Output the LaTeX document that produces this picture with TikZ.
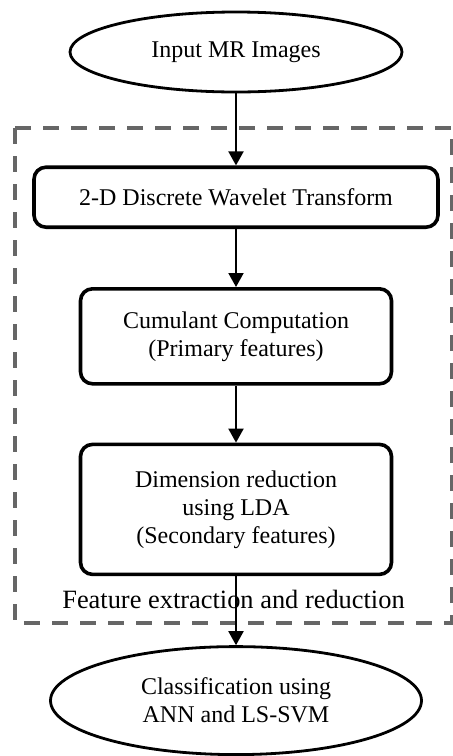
\documentclass[tikz,border=0pt]{standalone}
\usepackage{fontspec}
\setmainfont{Liberation Serif}
\usetikzlibrary{arrows.meta,positioning,shapes.geometric}

\begin{document}
\begin{tikzpicture}[
  terminal/.style={ellipse, draw=black, line width=1.4pt, inner sep=0pt,
                   align=center, font=\fontsize{12}{14}\selectfont},
  block/.style={rectangle, rounded corners=6pt, draw=black, line width=1.8pt,
                minimum width=155.5pt, align=center, font=\fontsize{12}{14}\selectfont},
  arrow/.style={-{Triangle[length=7pt,width=7.5pt]}, line width=1pt},
  group/.style={draw=black!60, line width=1.8pt, dash pattern=on 8pt off 6pt},
  caption/.style={font=\fontsize{13.2}{15}\selectfont},
  node distance=30pt
]
\useasboundingbox (0,0) rectangle (226pt,-378pt);

\node[terminal, minimum width=166pt, minimum height=40pt] (input) at (118pt,-26pt) {Input MR Images};
\node[block, below=36pt of input, minimum width=202pt, minimum height=30pt] (dwt) {2-D Discrete Wavelet Transform};
\node[block, below=29pt of dwt, minimum height=47.5pt] (cum) {Cumulant Computation\\(Primary features)};
\node[block, below=28.5pt of cum, minimum height=65pt] (lda) {Dimension reduction\\using LDA\\(Secondary features)};
\node[terminal, below=34.5pt of lda, minimum width=185.5pt, minimum height=54pt] (cls) {Classification using\\ANN and LS-SVM};

% dashed group round the feature stages
\draw[group] (7.5pt,-64pt) rectangle (226pt,-311.5pt);
\node[caption] (grp) at (116.75pt,-299.5pt) {Feature extraction and reduction};

\draw[arrow] (input) -- (dwt);
\draw[arrow] (dwt) -- (cum);
\draw[arrow] (cum) -- (lda);
\draw[arrow] (lda) -- (cls);

\end{tikzpicture}
\end{document}
